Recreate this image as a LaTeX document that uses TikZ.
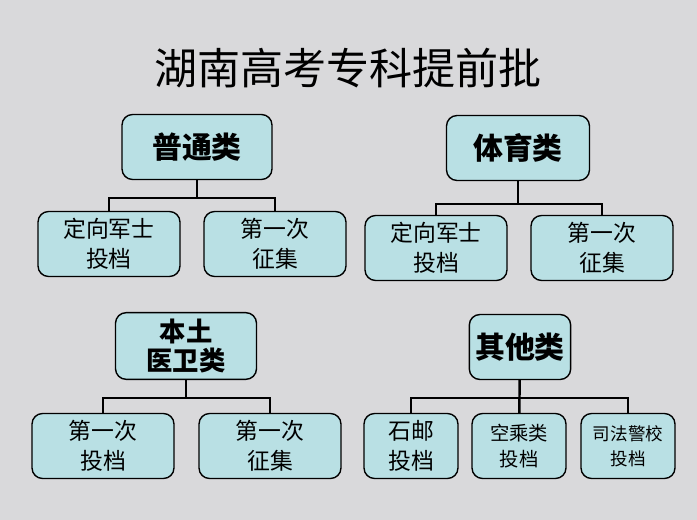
\documentclass[tikz,border=0pt]{standalone}
\usepackage{fontspec}
\newfontfamily\cjk{Noto Sans CJK SC}
\usetikzlibrary{positioning,calc}
\definecolor{boxfill}{HTML}{B9E0E4}
\definecolor{marble}{HTML}{D9D9DB}
\begin{document}
\begin{tikzpicture}[x=0.02cm,y=-0.02cm]
	% Styles
	\tikzstyle{group}=[draw, rounded corners=6pt, fill=boxfill, line width=0.8pt, minimum height=1.3cm, align=center, font={\cjk\fontsize{17}{19}\selectfont\bfseries}]
	\tikzstyle{item}=[draw, rounded corners=6pt, fill=boxfill, line width=0.8pt, minimum width=2.84cm, minimum height=1.3cm, align=center, font={\cjk\fontsize{13}{17}\selectfont}]
	\tikzstyle{link}=[line width=1.4pt]

	% Background
	\fill[marble] (0,0) rectangle (697,520);
	\useasboundingbox (0,0) rectangle (697,520);

	% Title
	\node[font={\cjk\fontsize{24.5}{26}\selectfont}] (title) at (348,68) {湖南高考专科提前批};

	% Groups
	\node[group, minimum width=3cm] (general) at (197,147) {普通类};
	\node[group, minimum width=2.86cm] (sports) at (518,148) {体育类};
	\node[group, minimum width=2.82cm, font={\cjk\fontsize{15}{17}\selectfont\bfseries}] (medical) at (186,346) {本土\\医卫类};
	\node[group, minimum width=1.86cm] (other) at (520,347) {其他类};

	% Items
	\node[item] (g1) at (109,244) {定向军士\\投档};
	\node[item] (g2) at (275,244) {第一次\\征集};
	\node[item] (s1) at (436,248) {定向军士\\投档};
	\node[item] (s2) at (602,248) {第一次\\征集};
	\node[item] (m1) at (103,446) {第一次\\投档};
	\node[item] (m2) at (270,446) {第一次\\征集};
	\node[item, minimum width=1.88cm] (o1) at (411,446) {石邮\\投档};
	\node[item, minimum width=1.88cm, font={\cjk\fontsize{11}{15}\selectfont}] (o2) at (519,446) {空乘类\\投档};
	\node[item, minimum width=1.88cm, font={\cjk\fontsize{10}{14}\selectfont}] (o3) at (628,446) {司法警校\\投档};

	% Connectors
	\coordinate (gbus) at (197,198);
	\coordinate (sbus) at (518,204);
	\coordinate (mbus) at (186,398);
	\coordinate (obus) at (520,398);
	\draw[link] (general) -- (gbus);
	\draw[link] (gbus) -| (g1);
	\draw[link] (gbus) -| (g2);
	\draw[link] (sports) -- (sbus);
	\draw[link] (sbus) -| (s1);
	\draw[link] (sbus) -| (s2);
	\draw[link] (medical) -- (mbus);
	\draw[link] (mbus) -| (m1);
	\draw[link] (mbus) -| (m2);
	\draw[link] (other) -- (o2);
	\draw[link] (obus) -| (o1);
	\draw[link] (obus) -| (o3);
\end{tikzpicture}
\end{document}
